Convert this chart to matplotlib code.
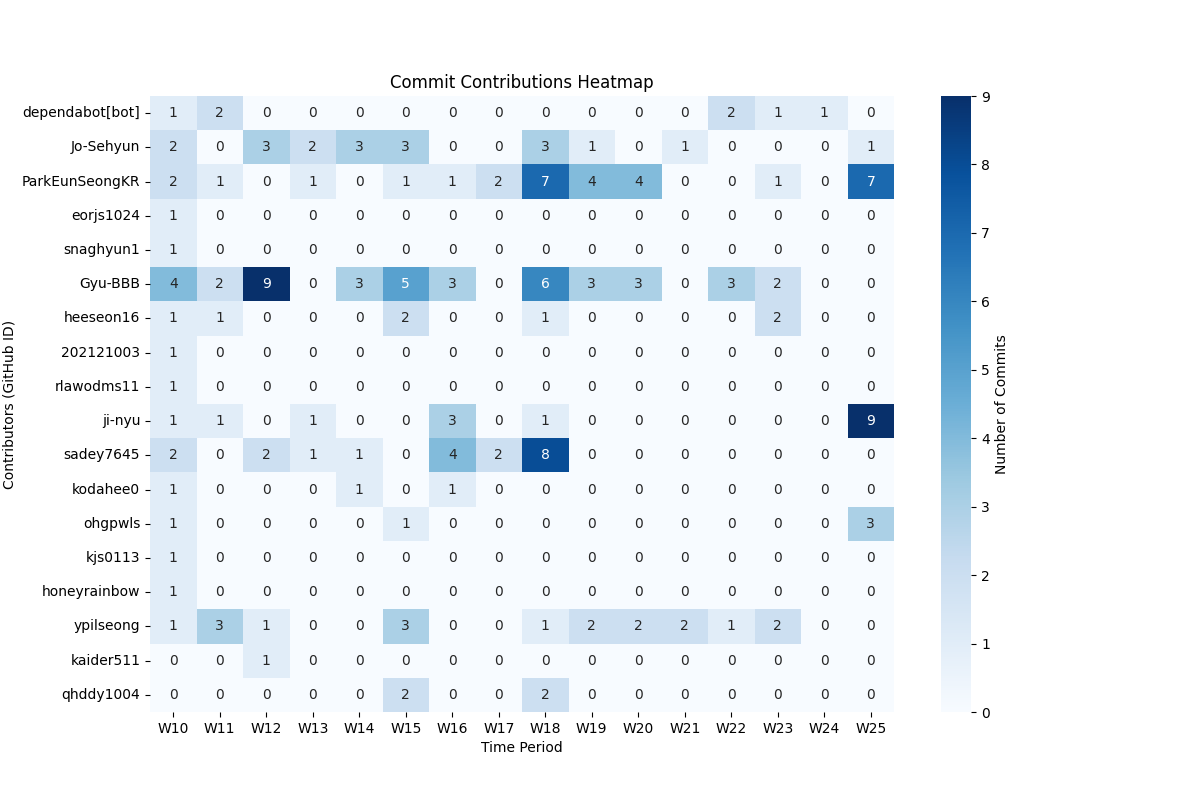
import matplotlib
matplotlib.use("Agg")
import matplotlib.pyplot as plt
import pandas as pd
import seaborn as sns

weeks = [f"W{i}" for i in range(10, 26)]
contributors = [
    "dependabot[bot]", "Jo-Sehyun", "ParkEunSeongKR", "eorjs1024", "snaghyun1",
    "Gyu-BBB", "heeseon16", "202121003", "rlawodms11", "ji-nyu", "sadey7645",
    "kodahee0", "ohgpwls", "kjs0113", "honeyrainbow", "ypilseong", "kaider511",
    "qhddy1004",
]
commits = [
    [1, 2, 0, 0, 0, 0, 0, 0, 0, 0, 0, 0, 2, 1, 1, 0],
    [2, 0, 3, 2, 3, 3, 0, 0, 3, 1, 0, 1, 0, 0, 0, 1],
    [2, 1, 0, 1, 0, 1, 1, 2, 7, 4, 4, 0, 0, 1, 0, 7],
    [1, 0, 0, 0, 0, 0, 0, 0, 0, 0, 0, 0, 0, 0, 0, 0],
    [1, 0, 0, 0, 0, 0, 0, 0, 0, 0, 0, 0, 0, 0, 0, 0],
    [4, 2, 9, 0, 3, 5, 3, 0, 6, 3, 3, 0, 3, 2, 0, 0],
    [1, 1, 0, 0, 0, 2, 0, 0, 1, 0, 0, 0, 0, 2, 0, 0],
    [1, 0, 0, 0, 0, 0, 0, 0, 0, 0, 0, 0, 0, 0, 0, 0],
    [1, 0, 0, 0, 0, 0, 0, 0, 0, 0, 0, 0, 0, 0, 0, 0],
    [1, 1, 0, 1, 0, 0, 3, 0, 1, 0, 0, 0, 0, 0, 0, 9],
    [2, 0, 2, 1, 1, 0, 4, 2, 8, 0, 0, 0, 0, 0, 0, 0],
    [1, 0, 0, 0, 1, 0, 1, 0, 0, 0, 0, 0, 0, 0, 0, 0],
    [1, 0, 0, 0, 0, 1, 0, 0, 0, 0, 0, 0, 0, 0, 0, 3],
    [1, 0, 0, 0, 0, 0, 0, 0, 0, 0, 0, 0, 0, 0, 0, 0],
    [1, 0, 0, 0, 0, 0, 0, 0, 0, 0, 0, 0, 0, 0, 0, 0],
    [1, 3, 1, 0, 0, 3, 0, 0, 1, 2, 2, 2, 1, 2, 0, 0],
    [0, 0, 1, 0, 0, 0, 0, 0, 0, 0, 0, 0, 0, 0, 0, 0],
    [0, 0, 0, 0, 0, 2, 0, 0, 2, 0, 0, 0, 0, 0, 0, 0],
]

df = pd.DataFrame(commits, index=contributors, columns=weeks)

fig, ax = plt.subplots(figsize=(12, 8), dpi=100)
sns.heatmap(df, annot=True, fmt="d", cmap="Blues", ax=ax,
            cbar_kws={"label": "Number of Commits"})
ax.set_title("Commit Contributions Heatmap")
ax.set_xlabel("Time Period")
ax.set_ylabel("Contributors (GitHub ID)")
ax.tick_params(axis="x", rotation=0)
ax.tick_params(axis="y", rotation=0)
fig.savefig("out.png", dpi=100)
